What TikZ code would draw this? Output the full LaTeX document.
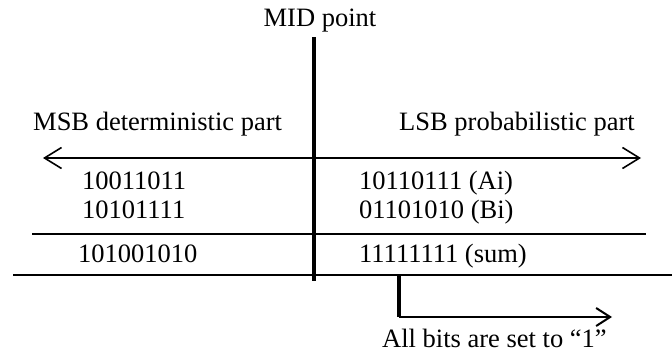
\documentclass[tikz,border=0pt]{standalone}
\usepackage{fontspec}
\setmainfont{Liberation Serif}
\usetikzlibrary{arrows.meta}
\begin{document}
\begin{tikzpicture}[x=1pt,y=-1pt,
  txt/.style={anchor=base west,inner sep=0pt,font=\fontsize{26.5}{31}\selectfont},
  rule/.style={line width=2pt}]
\useasboundingbox (0,0) rectangle (672,356);
% texts
\node[txt,anchor=base] (mid) at (320,26) {MID point};
\node[txt] (msb) at (33,130) {MSB deterministic part};
\node[txt] (lsb) at (399,130) {LSB probabilistic part};
\node[txt] (a1) at (82,189) {10011011};
\node[txt] (b1) at (82,218) {10101111};
\node[txt] (s1) at (78,262) {101001010};
\node[txt] (a2) at (359,189) {10110111 (Ai)};
\node[txt] (b2) at (359,218) {01101010 (Bi)};
\node[txt] (s2) at (359,262) {11111111 (sum)};
\node[txt] (all) at (382,347) {All bits are set to “1”};
% coordinates
\coordinate (vt) at (314,37);
\coordinate (vb) at (314,281);
\coordinate (al) at (43,158);
\coordinate (ar) at (641,158);
\coordinate (l1) at (32,234);
\coordinate (r1) at (646,234);
\coordinate (l2) at (13,275);
\coordinate (r2) at (672,275);
\coordinate (st) at (399,275);
\coordinate (sb) at (399,317);
\coordinate (se) at (612,317);
% lines
\draw[line width=3.2pt] (vt) -- (vb);
\draw[rule,{Straight Barb[length=17pt,width=21pt,line width=1.6pt]}-{Straight Barb[length=17pt,width=21pt,line width=1.6pt]}] (al) -- (ar);
\draw[rule] (l1) -- (r1);
\draw[rule] (l2) -- (r2);
\draw[line width=3.2pt] (st) -- (sb);
\draw[rule,-{Straight Barb[length=14pt,width=18pt,line width=2pt]}] (sb) -- (se);
\end{tikzpicture}
\end{document}
